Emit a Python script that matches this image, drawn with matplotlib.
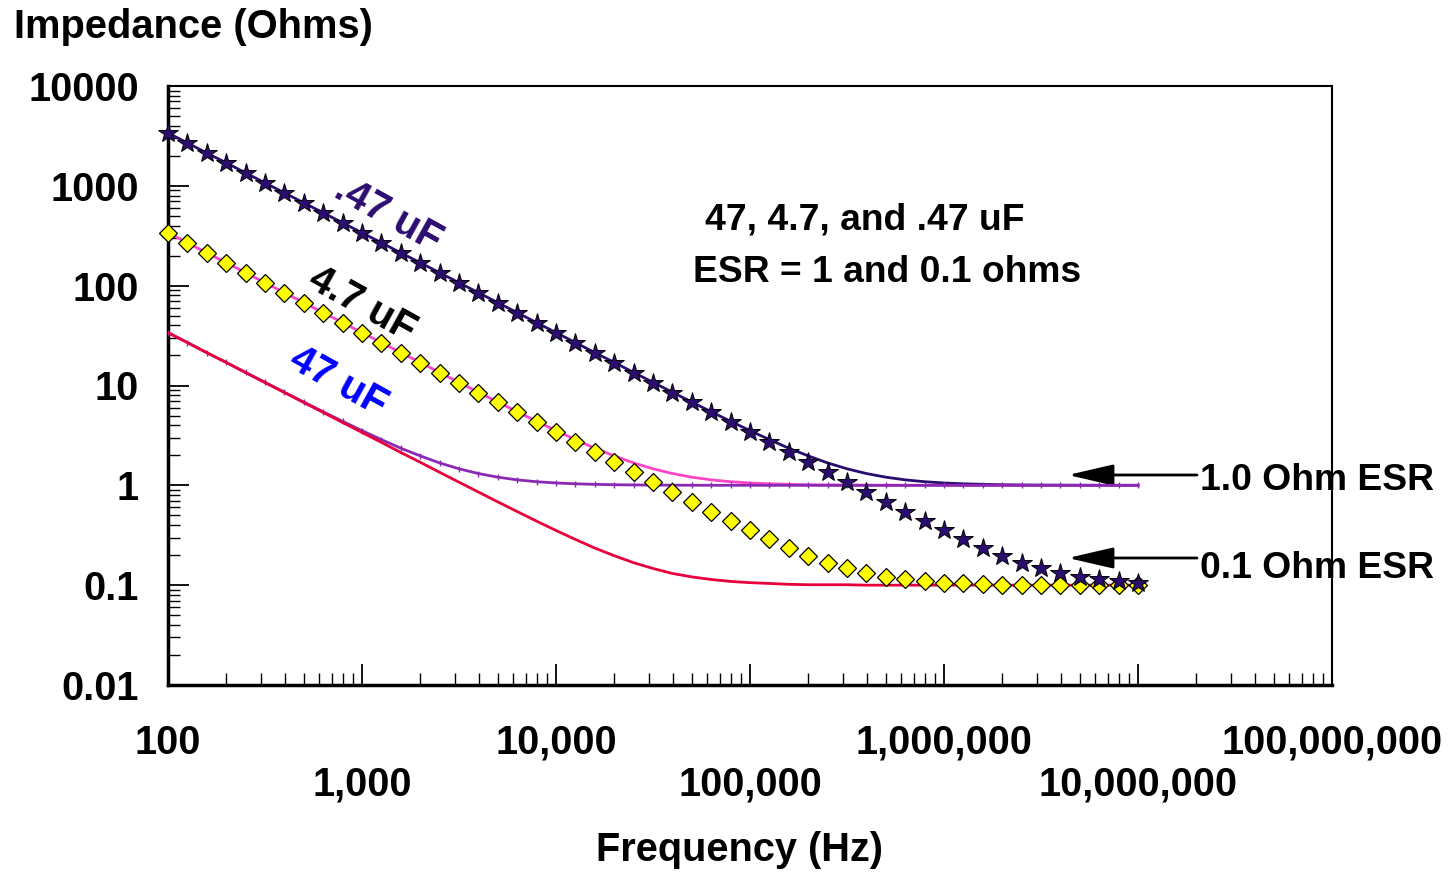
#!/usr/bin/env python3
# capacitor impedance vs frequency, log-log
import matplotlib
matplotlib.use('Agg')
import matplotlib.pyplot as plt

plt.rcParams['font.family'] = ['Liberation Sans', 'DejaVu Sans']
plt.rcParams['font.weight'] = 'bold'

# frequency points (Hz), 10 per decade
freq = [1.00e2, 1.26e2, 1.58e2, 2.00e2, 2.51e2, 3.16e2, 3.98e2, 5.01e2, 6.31e2, 7.94e2,
        1.00e3, 1.26e3, 1.58e3, 2.00e3, 2.51e3, 3.16e3, 3.98e3, 5.01e3, 6.31e3, 7.94e3,
        1.00e4, 1.26e4, 1.58e4, 2.00e4, 2.51e4, 3.16e4, 3.98e4, 5.01e4, 6.31e4, 7.94e4,
        1.00e5, 1.26e5, 1.58e5, 2.00e5, 2.51e5, 3.16e5, 3.98e5, 5.01e5, 6.31e5, 7.94e5,
        1.00e6, 1.26e6, 1.58e6, 2.00e6, 2.51e6, 3.16e6, 3.98e6, 5.01e6, 6.31e6, 7.94e6,
        1.00e7]

# .47 uF
z_047_esr1 = [3386, 2690, 2137, 1697, 1348, 1071, 850.6, 675.6, 536.7, 426.3,
              338.6, 269.0, 213.7, 169.7, 134.8, 107.1, 85.07, 67.57, 53.68, 42.64,
              33.87, 26.92, 21.39, 17.00, 13.52, 10.76, 8.565, 6.830, 5.459, 4.379,
              3.531, 2.870, 2.359, 1.970, 1.678, 1.465, 1.313, 1.207, 1.135, 1.087,
              1.056, 1.036, 1.023, 1.014, 1.009, 1.006, 1.004, 1.002, 1.001, 1.001,
              1.001]
z_047_esr01 = [3386, 2690, 2137, 1697, 1348, 1071, 850.6, 675.6, 536.7, 426.3,
               338.6, 269.0, 213.7, 169.7, 134.8, 107.1, 85.06, 67.56, 53.67, 42.63,
               33.86, 26.90, 21.37, 16.97, 13.48, 10.71, 8.507, 6.757, 5.368, 4.264,
               3.387, 2.692, 2.139, 1.700, 1.352, 1.076, 0.857, 0.683, 0.546, 0.438,
               0.353, 0.287, 0.236, 0.197, 0.168, 0.147, 0.131, 0.121, 0.114, 0.109,
               0.106]

# 4.7 uF
z_47_esr1 = [338.6, 269.0, 213.7, 169.7, 134.8, 107.1, 85.07, 67.57, 53.68, 42.64,
             33.87, 26.92, 21.39, 17.00, 13.52, 10.76, 8.565, 6.830, 5.459, 4.379,
             3.531, 2.870, 2.359, 1.970, 1.678, 1.465, 1.313, 1.207, 1.135, 1.087,
             1.056, 1.036, 1.023, 1.014, 1.009, 1.006, 1.004, 1.002, 1.001, 1.001,
             1.001, 1.000, 1.000, 1.000, 1.000, 1.000, 1.000, 1.000, 1.000, 1.000,
             1.000]
z_47_esr01 = [338.6, 269.0, 213.7, 169.7, 134.8, 107.1, 85.06, 67.56, 53.67, 42.63,
              33.86, 26.90, 21.37, 16.97, 13.48, 10.71, 8.507, 6.757, 5.368, 4.264,
              3.387, 2.692, 2.139, 1.700, 1.352, 1.076, 0.857, 0.683, 0.546, 0.438,
              0.353, 0.287, 0.236, 0.197, 0.168, 0.147, 0.131, 0.121, 0.114, 0.109,
              0.106, 0.104, 0.102, 0.101, 0.101, 0.101, 0.100, 0.100, 0.100, 0.100,
              0.100]

# 47 uF
z_470_esr1 = [33.87, 26.92, 21.39, 17.00, 13.52, 10.76, 8.565, 6.830, 5.459, 4.379,
              3.531, 2.870, 2.359, 1.970, 1.678, 1.465, 1.313, 1.207, 1.135, 1.087,
              1.056, 1.036, 1.023, 1.014, 1.009, 1.006, 1.004, 1.002, 1.001, 1.001,
              1.001, 1.000, 1.000, 1.000, 1.000, 1.000, 1.000, 1.000, 1.000, 1.000,
              1.000, 1.000, 1.000, 1.000, 1.000, 1.000, 1.000, 1.000, 1.000, 1.000,
              1.000]
z_470_esr01 = [33.86, 26.90, 21.37, 16.97, 13.48, 10.71, 8.507, 6.757, 5.368, 4.264,
               3.387, 2.692, 2.139, 1.700, 1.352, 1.076, 0.857, 0.683, 0.546, 0.438,
               0.353, 0.287, 0.236, 0.197, 0.168, 0.147, 0.131, 0.121, 0.114, 0.109,
               0.106, 0.104, 0.102, 0.101, 0.101, 0.101, 0.100, 0.100, 0.100, 0.100,
               0.100, 0.100, 0.100, 0.100, 0.100, 0.100, 0.100, 0.100, 0.100, 0.100,
               0.100]

y_ticks = [0.01, 0.1, 1, 10, 100, 1000, 10000]
y_labels = ['0.01', '0.1', '1', '10', '100', '1000', '10000']
x_ticks = [1e2, 1e3, 1e4, 1e5, 1e6, 1e7, 1e8]
x_labels = ['100', '1,000', '10,000', '100,000', '1,000,000', '10,000,000', '100,000,000']

W, H = 1448, 874
fig = plt.figure(figsize=(W / 100, H / 100), dpi=100)
ax = fig.add_axes([168 / W, 1 - 685 / H, (1332 - 168) / W, (685 - 86) / H])

NAVY = '#2b0c70'
MAGENTA = '#ff45c8'
PURPLE = '#8a2ab4'
RED = '#e8003c'

ax.plot(freq, z_047_esr1, color=NAVY, lw=2, zorder=2)
ax.plot(freq, z_47_esr1, color=MAGENTA, lw=2, zorder=3)
ax.plot(freq, z_470_esr1, color=PURPLE, lw=2, marker='|', ms=4, mew=1, zorder=4)
ax.plot(freq, z_470_esr01, color=RED, lw=2, zorder=4)
ax.plot(freq, z_47_esr01, ls='none', marker='D', ms=9, mfc='#ffff00', mec='black',
        mew=0.9, zorder=5, clip_on=False)
ax.plot(freq, z_047_esr01, ls='none', marker='*', ms=15, mfc=NAVY, mec='black',
        mew=0.7, zorder=6, clip_on=False)

ax.set_xscale('log')
ax.set_yscale('log')
ax.set_xlim(1e2, 1e8)
ax.set_ylim(0.01, 10000)

ax.set_yticks(y_ticks)
ax.set_yticklabels(y_labels, fontsize=28.5, fontweight='bold')
# staggered x labels: every other one pushed down a line
stag = [lab if i % 2 == 0 else '\n' + lab for i, lab in enumerate(x_labels)]
ax.set_xticks(x_ticks)
ax.set_xticklabels(stag, fontsize=28.5, fontweight='bold', linespacing=1.12)

ax.tick_params(which='major', direction='in', length=15, width=1.3)
ax.tick_params(which='minor', direction='in', length=8.5, width=1.0)
ax.tick_params(axis='y', which='both', pad=21)
ax.tick_params(axis='x', which='both', pad=28)
ax.tick_params(top=False, right=False, which='both')

for side in ['left', 'bottom']:
    ax.spines[side].set_linewidth(2.5)
for side in ['top', 'right']:
    ax.spines[side].set_linewidth(1.5)

# titles / labels
fig.text(14 / W, 1 - 27 / H, 'Impedance (Ohms)', fontsize=28.7, fontweight='bold',
         ha='left', va='center')
fig.text(740 / W, 1 - 850 / H, 'Frequency (Hz)', fontsize=28.6, fontweight='bold',
         ha='center', va='center')

# series labels
fig.text(388 / W, 1 - 215 / H, '.47 uF', fontsize=29, fontweight='bold', color=NAVY,
         rotation=-29, ha='center', va='center')
fig.text(362 / W, 1 - 305 / H, '4.7 uF', fontsize=29, fontweight='bold', color='black',
         rotation=-29, ha='center', va='center')
fig.text(338 / W, 1 - 382 / H, '47 uF', fontsize=29, fontweight='bold', color='#0000ff',
         rotation=-29, ha='center', va='center')

fig.text(865 / W, 1 - 220 / H, '47, 4.7, and .47 uF', fontsize=26.8, fontweight='bold',
         ha='center', va='center')
fig.text(887 / W, 1 - 272 / H, 'ESR = 1 and 0.1 ohms', fontsize=26.8, fontweight='bold',
         ha='center', va='center')

# ESR arrows
for ty, ly, txt in [(475, 480, '1.0 Ohm ESR'), (558, 568, '0.1 Ohm ESR')]:
    ax.annotate('', xy=(1068, H - ty), xycoords='figure pixels',
                xytext=(1197, H - ty), textcoords='figure pixels',
                arrowprops=dict(arrowstyle='-|>,head_length=2.8,head_width=0.65',
                                mutation_scale=10, color='black', lw=2,
                                shrinkA=0, shrinkB=0),
                annotation_clip=False)
    fig.text(1200 / W, 1 - ly / H, txt, fontsize=26.8, fontweight='bold',
             ha='left', va='center')

fig.savefig('out.png', dpi=100)
